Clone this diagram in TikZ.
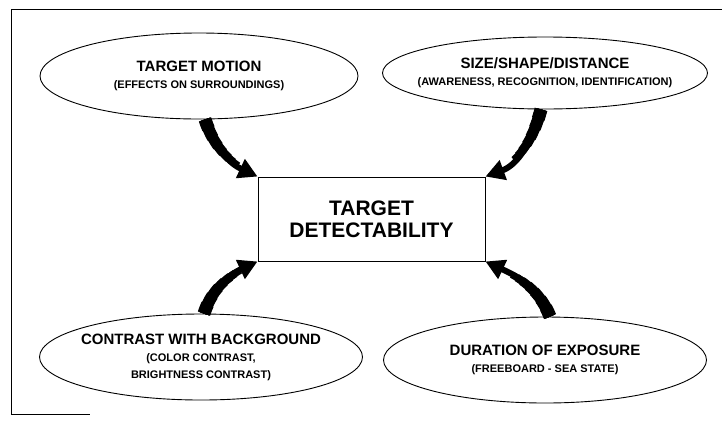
\documentclass[tikz,border=0pt]{standalone}
\usepackage{fontspec}
\setmainfont{Liberation Sans}
\usetikzlibrary{shapes.geometric,arrows.meta}

\tikzset{
  factor/.style={ellipse,draw,line width=0.9pt,inner sep=-20pt,
    minimum width=322pt,minimum height=84pt,align=center,
    font=\fontsize{11}{17}\selectfont\bfseries},
  mainbox/.style={rectangle,draw,line width=0.9pt,inner sep=0pt,
    minimum width=227pt,minimum height=84pt,align=center,
    font=\fontsize{21}{22}\selectfont\bfseries},
  bigarrow/.style={line width=6pt,-{Triangle[length=19pt,width=20pt]}},
  taper/.style 2 args={line width=#1,dash pattern=on #2 off 500pt}
}
\newcommand{\ftitle}[1]{{\fontsize{15}{17}\selectfont #1}}

\begin{document}
\begin{tikzpicture}[x=1pt,y=-1pt]
    \useasboundingbox (0,0) rectangle (722,429);

    % frame
    \draw[line width=0.9pt] (722,9) -- (11,9) -- (11,414) -- (90,414);

    % centre box
    \node[mainbox] (td) at (371.5,219) {TARGET\\DETECTABILITY};

    % ellipses
    \node[factor,minimum width=318pt,minimum height=86pt] (tm) at (199,76)
        {\ftitle{TARGET MOTION}\\(EFFECTS ON SURROUNDINGS)};
    \node[factor,minimum width=325pt,minimum height=72pt] (ssd) at (545,73)
        {\ftitle{SIZE/SHAPE/DISTANCE}\\(AWARENESS, RECOGNITION, IDENTIFICATION)};
    \node[factor,minimum width=323pt,minimum height=86pt] (cwb) at (201,357)
        {\ftitle{CONTRAST WITH BACKGROUND}\\(COLOR CONTRAST,\\BRIGHTNESS CONTRAST)};
    \node[factor,minimum width=323pt,minimum height=86pt] (doe) at (545,360)
        {\ftitle{DURATION OF EXPOSURE}\\(FREEBOARD - SEA STATE)};

    % arrows (wide at the ellipse, narrowing towards the box)
    \foreach \w/\l in {13pt/10pt,12pt/20pt,11pt/30pt,10pt/38pt,9pt/46pt,8pt/52pt,7pt/58pt} {
      \draw[taper={\w}{\l}] ([xshift=6pt]tm.south) to[out=-72,in=155] (td.north west);
      \draw[taper={\w}{\l}] ([xshift=-4pt]ssd.south) to[out=-105,in=20] (td.north east);
      \draw[taper={\w}{\l}] ([xshift=3pt]cwb.north) to[out=72,in=205] (td.south west);
      \draw[taper={\w}{\l}] ([xshift=5pt]doe.north) to[out=112,in=-25] (td.south east);
    }
    \draw[bigarrow] ([xshift=6pt]tm.south) to[out=-72,in=155] (td.north west);
    \draw[bigarrow] ([xshift=-4pt]ssd.south) to[out=-105,in=20] (td.north east);
    \draw[bigarrow] ([xshift=3pt]cwb.north) to[out=72,in=205] (td.south west);
    \draw[bigarrow] ([xshift=5pt]doe.north) to[out=112,in=-25] (td.south east);

\end{tikzpicture}
\end{document}
